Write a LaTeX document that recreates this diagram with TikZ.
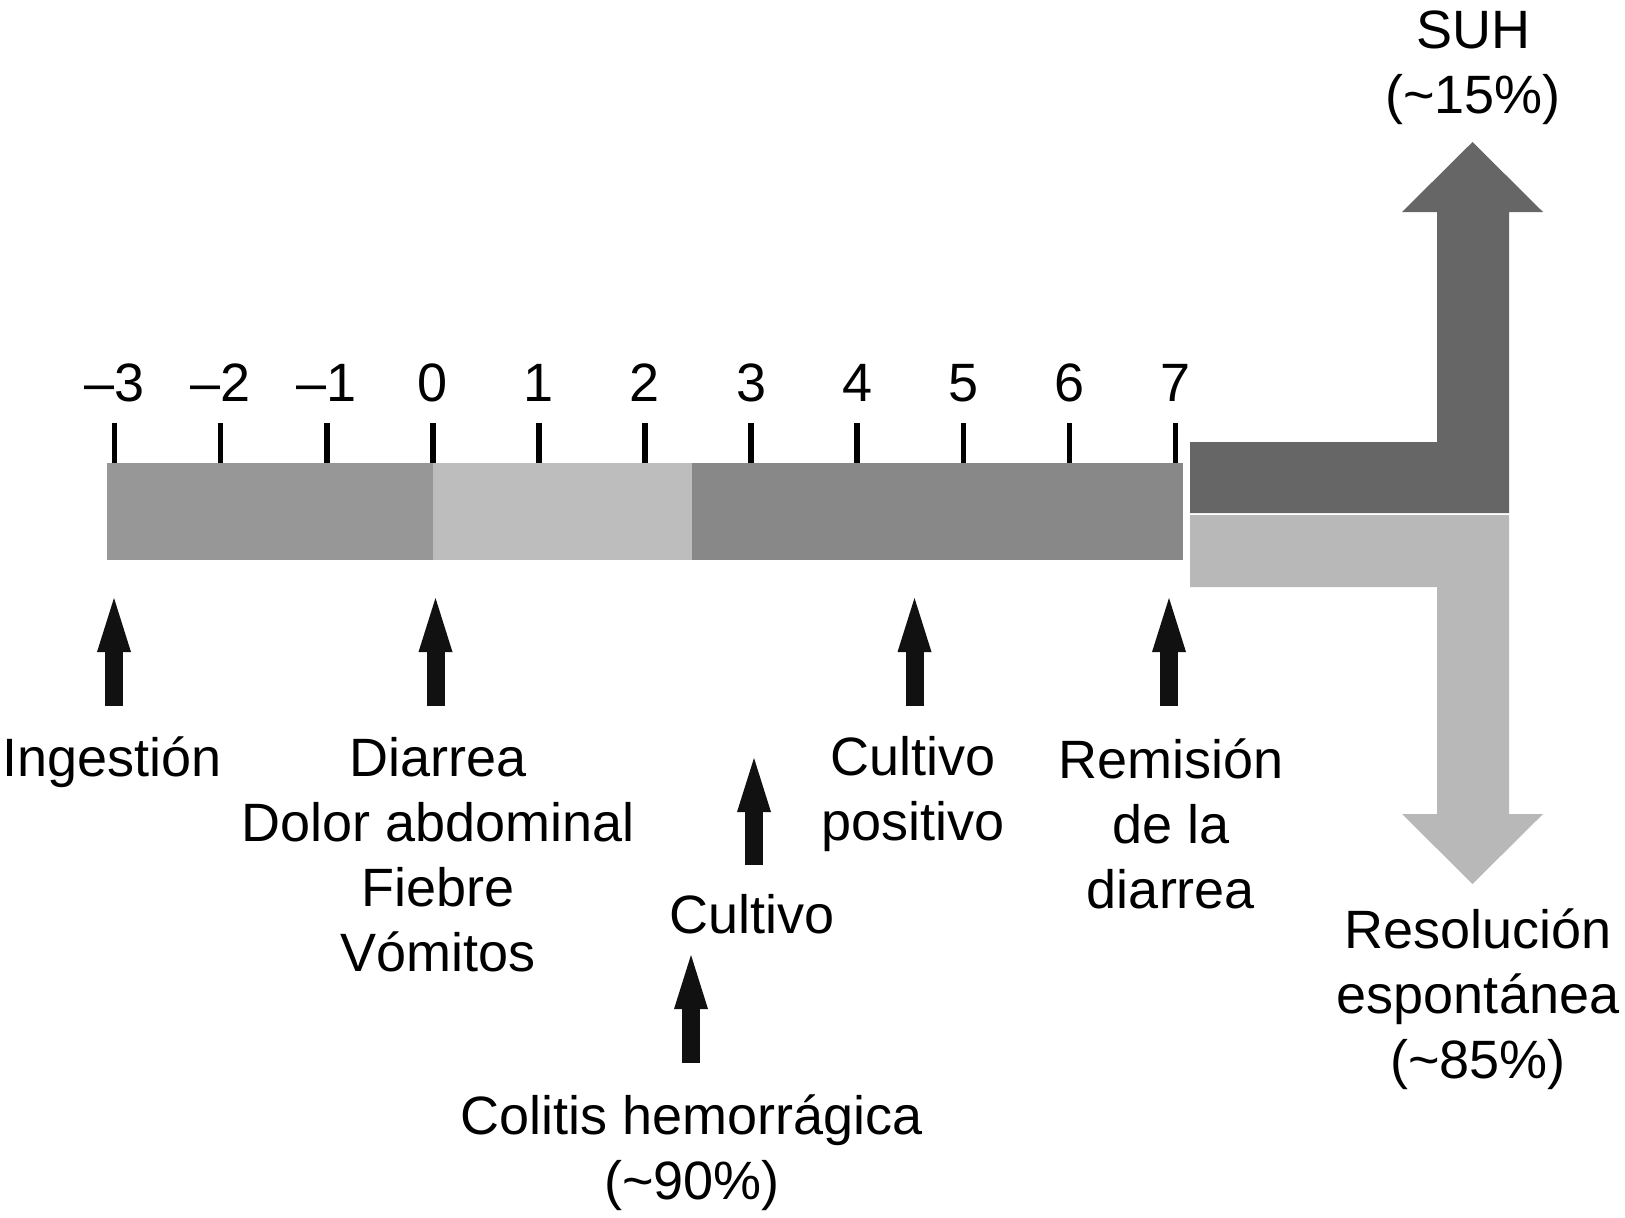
\documentclass[tikz,border=0pt]{standalone}
\usepackage{fontspec}
\setmainfont{Liberation Sans}
\usetikzlibrary{arrows.meta}

\definecolor{incub}{HTML}{979797}
\definecolor{prodr}{HTML}{BDBDBD}
\definecolor{colit}{HTML}{888888}
\definecolor{suhband}{HTML}{666666}
\definecolor{resband}{HTML}{B8B8B8}
\definecolor{evtblack}{HTML}{111111}

\begin{document}
\begin{tikzpicture}[x=0.5pt,y=-0.5pt,
    lbl/.style={font=\fontsize{27}{32.5}\selectfont,align=center,anchor=base,inner sep=0pt},
    daytick/.style={line width=2.8pt,black},
    evt/.style={evtblack,line width=9pt,-{Triangle[length=27pt,width=17pt,line width=0pt]}}]
  \useasboundingbox (0,0) rectangle (1625,1217);

  \fill[incub] (107,463) rectangle (433,560);
  \fill[prodr] (433,463) rectangle (692,560);
  \fill[colit] (692,463) rectangle (1183,560);

  \fill[suhband] (1190,442) -- (1437,442) -- (1437,212) -- (1402,212) -- (1472.5,142)
    -- (1543,212) -- (1509,212) -- (1509,513) -- (1190,513) -- cycle;
  \fill[resband] (1190,515) -- (1509,515) -- (1509,814) -- (1543,814) -- (1472.5,884)
    -- (1402,814) -- (1437,814) -- (1437,587) -- (1190,587) -- cycle;

  \path
    (114.5,401.5) node[lbl] (dm3){–3}
    (220.6,401.5) node[lbl] (dm2){–2}
    (326.7,401.5) node[lbl] (dm1){–1}
    (432.8,401.5) node[lbl] (d0){0}
    (538.9,401.5) node[lbl] (d1){1}
    (645.0,401.5) node[lbl] (d2){2}
    (751.1,401.5) node[lbl] (d3){3}
    (857.2,401.5) node[lbl] (d4){4}
    (963.3,401.5) node[lbl] (d5){5}
    (1069.4,401.5) node[lbl] (d6){6}
    (1175.5,401.5) node[lbl] (d7){7};
  \begin{scope}[daytick]
    \draw (114.5,423) -- (114.5,463);
    \draw (220.6,423) -- (220.6,463);
    \draw (326.7,423) -- (326.7,463);
    \draw (432.8,423) -- (432.8,463);
    \draw (538.9,423) -- (538.9,463);
    \draw (645.0,423) -- (645.0,463);
    \draw (751.1,423) -- (751.1,463);
    \draw (857.2,423) -- (857.2,463);
    \draw (963.3,423) -- (963.3,463);
    \draw (1069.4,423) -- (1069.4,463);
    \draw (1175.5,423) -- (1175.5,463);
  \end{scope}

  \node[lbl] (suh) at (1473,113) {SUH\\(\textasciitilde 15\%)};
  \node[lbl] (res) at (1478,1078) {Resolución\\espontánea\\(\textasciitilde 85\%)};

  \node[lbl] (ing) at (112,776) {Ingestión};
  \node[lbl] (sint) at (438,971) {Diarrea\\Dolor abdominal\\Fiebre\\Vómitos};
  \node[lbl] (cpos) at (913,840) {Cultivo\\positivo};
  \node[lbl] (rem) at (1171,908) {Remisión\\de la\\diarrea};
  \node[lbl] (cult) at (752,933) {Cultivo};
  \node[lbl] (colh) at (692,1199) {Colitis hemorrágica\\(\textasciitilde 90\%)};

  \coordinate (ingfoot) at (114,706);   \coordinate (ingtip) at (114,598);
  \coordinate (sintfoot) at (435.5,706); \coordinate (sinttip) at (435.5,598);
  \coordinate (cposfoot) at (914.5,706); \coordinate (cpostip) at (914.5,598);
  \coordinate (remfoot) at (1169,706);  \coordinate (remtip) at (1169,598);
  \coordinate (cultfoot) at (754,865);  \coordinate (culttip) at (754,758);
  \coordinate (colhfoot) at (691,1063); \coordinate (colhtip) at (691,955);
  \draw[evt] (ingfoot) -- (ingtip);
  \draw[evt] (sintfoot) -- (sinttip);
  \draw[evt] (cposfoot) -- (cpostip);
  \draw[evt] (remfoot) -- (remtip);
  \draw[evt] (cultfoot) -- (culttip);
  \draw[evt] (colhfoot) -- (colhtip);
\end{tikzpicture}
\end{document}
